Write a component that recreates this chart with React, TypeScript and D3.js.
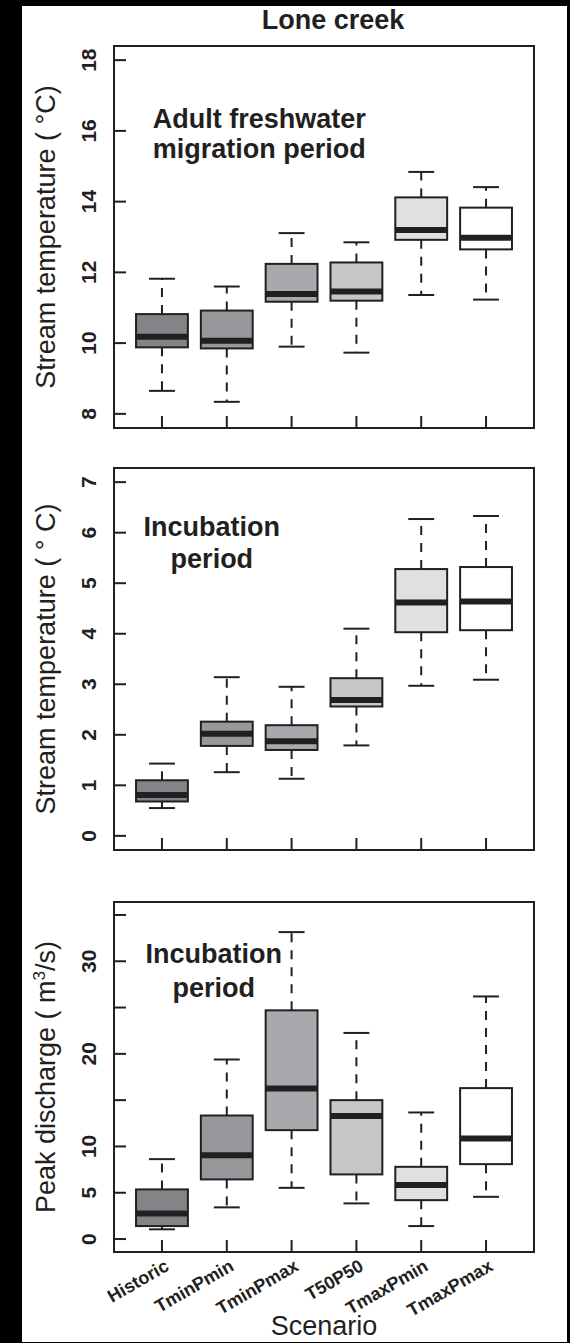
import React from "react";
import * as d3 from "d3";

const categories = ["Historic", "TminPmin", "TminPmax", "T50P50", "TmaxPmin", "TmaxPmax"];
const boxFills = ["#838487", "#97989b", "#a8a9ac", "#c6c7c9", "#dfe0e2", "#ffffff"];

// Panel 1: adult freshwater migration period, stream temperature
const p1Low = [8.65, 8.34, 9.9, 9.73, 11.36, 11.23];
const p1Q1 = [9.88, 9.85, 11.17, 11.2, 12.92, 12.65];
const p1Med = [10.18, 10.07, 11.39, 11.46, 13.2, 12.98];
const p1Q3 = [10.82, 10.92, 12.24, 12.28, 14.12, 13.83];
const p1High = [11.82, 11.6, 13.11, 12.85, 14.84, 14.41];
const p1Ticks = [8, 10, 12, 14, 16, 18];
const p1TickLabels = [8, 10, 12, 14, 16, 18];

// Panel 2: incubation period, stream temperature
const p2Low = [0.55, 1.26, 1.13, 1.79, 2.97, 3.09];
const p2Q1 = [0.68, 1.78, 1.7, 2.56, 4.03, 4.07];
const p2Med = [0.81, 2.02, 1.87, 2.69, 4.62, 4.64];
const p2Q3 = [1.1, 2.26, 2.19, 3.12, 5.28, 5.32];
const p2High = [1.43, 3.14, 2.95, 4.1, 6.27, 6.33];
const p2Ticks = [0, 1, 2, 3, 4, 5, 6, 7];
const p2TickLabels = [0, 1, 2, 3, 4, 5, 6, 7];

// Panel 3: incubation period, peak discharge
const p3Low = [1.05, 3.42, 5.53, 3.85, 1.4, 4.56];
const p3Q1 = [1.4, 6.44, 11.76, 6.98, 4.2, 8.09];
const p3Med = [2.77, 9.06, 16.26, 13.3, 5.83, 10.86];
const p3Q3 = [5.36, 13.34, 24.7, 15.0, 7.8, 16.3];
const p3High = [8.63, 19.39, 33.15, 22.26, 13.67, 26.2];
const p3Ticks = [0, 5, 10, 15, 20, 25, 30, 35];
const p3TickLabels = [0, 5, 10, 20, 30];

const INK = "#231f20";
const FONT = "'Liberation Sans', Arial, Helvetica, sans-serif";

const W = 570;
const H = 1343;
const plotLeft = 114;
const plotRight = 534;

const x = d3.scaleLinear().domain([0.26, 6.74]).range([plotLeft, plotRight]);
const bandW = x(1) - x(0);
const boxW = 0.8 * bandW;
const capW = boxW / 2;
const tickLen = 12;

type PanelProps = {
  top: number;
  bottom: number;
  domain: [number, number];
  low: number[];
  q1: number[];
  med: number[];
  q3: number[];
  high: number[];
  ticks: number[];
  tickLabels: number[];
  yTitle: React.ReactNode;
  note: string[];
  noteX: number;
  noteY: number[];
  showXLabels: boolean;
};

function Panel(p: PanelProps) {
  const y = d3.scaleLinear().domain(p.domain).range([p.bottom, p.top]);
  const mid = (p.top + p.bottom) / 2;
  return (
    <g>
      {categories.map((c, i) => {
        const cx = x(i + 1);
        return (
          <g key={c}>
            <line x1={cx} x2={cx} y1={y(p.q3[i])} y2={y(p.high[i])} stroke={INK} strokeWidth={2} strokeDasharray="9,8" />
            <line x1={cx} x2={cx} y1={y(p.q1[i])} y2={y(p.low[i])} stroke={INK} strokeWidth={2} strokeDasharray="9,8" />
            <line x1={cx - capW / 2} x2={cx + capW / 2} y1={y(p.high[i])} y2={y(p.high[i])} stroke={INK} strokeWidth={2} />
            <line x1={cx - capW / 2} x2={cx + capW / 2} y1={y(p.low[i])} y2={y(p.low[i])} stroke={INK} strokeWidth={2} />
            <rect
              x={cx - boxW / 2}
              y={y(p.q3[i])}
              width={boxW}
              height={y(p.q1[i]) - y(p.q3[i])}
              fill={boxFills[i]}
              stroke={INK}
              strokeWidth={2}
            />
            <line x1={cx - boxW / 2} x2={cx + boxW / 2} y1={y(p.med[i])} y2={y(p.med[i])} stroke={INK} strokeWidth={6} />
          </g>
        );
      })}
      <rect x={plotLeft} y={p.top} width={plotRight - plotLeft} height={p.bottom - p.top} fill="none" stroke={INK} strokeWidth={2} />
      {p.ticks.map((t) => (
        <line key={"yt" + t} x1={plotLeft} x2={plotLeft + tickLen} y1={y(t)} y2={y(t)} stroke={INK} strokeWidth={2} />
      ))}
      {p.tickLabels.map((t) => (
        <text
          key={"yl" + t}
          transform={`translate(96,${y(t)}) rotate(-90)`}
          textAnchor="middle"
          fontFamily={FONT}
          fontWeight="bold"
          fontSize={21}
          fill={INK}
        >
          {t}
        </text>
      ))}
      {categories.map((c, i) => (
        <line key={"xt" + c} x1={x(i + 1)} x2={x(i + 1)} y1={p.bottom} y2={p.bottom - tickLen} stroke={INK} strokeWidth={2} />
      ))}
      {p.showXLabels &&
        categories.map((c, i) => (
          <text
            key={"xl" + c}
            transform={`translate(${x(i + 1) + 5},${p.bottom + 12}) rotate(-30)`}
            textAnchor="end"
            dy="0.35em"
            fontFamily={FONT}
            fontWeight="bold"
            fontSize={18}
            fill={INK}
          >
            {c}
          </text>
        ))}
      <text transform={`translate(55,${mid}) rotate(-90)`} textAnchor="middle" fontFamily={FONT} fontSize={27} fill={INK}>
        {p.yTitle}
      </text>
      {p.note.map((line, k) => (
        <text
          key={"n" + k}
          x={x(p.noteX)}
          y={y(p.noteY[k])}
          textAnchor="middle"
          fontFamily={FONT}
          fontWeight="bold"
          fontSize={27}
          fill={INK}
        >
          {line}
        </text>
      ))}
    </g>
  );
}

export default function App() {
  return (
    <svg width={W} height={H} style={{ position: "absolute", left: 0, top: 0, display: "block" }}>
      <rect x={0} y={0} width={W} height={H} fill="#000" />
      <rect x={22} y={6} width={545} height={1336} fill="#fff" />
      <text x={333} y={29} textAnchor="middle" fontFamily={FONT} fontWeight="bold" fontSize={27} fill={INK}>
        Lone creek
      </text>
      <Panel
        top={46}
        bottom={428}
        domain={[7.6, 18.4]}
        low={p1Low}
        q1={p1Q1}
        med={p1Med}
        q3={p1Q3}
        high={p1High}
        ticks={p1Ticks}
        tickLabels={p1TickLabels}
        yTitle={"Stream temperature ( °C)"}
        note={["Adult freshwater", "migration period"]}
        noteX={2.5}
        noteY={[16.07, 15.22]}
        showXLabels={false}
      />
      <Panel
        top={468}
        bottom={850}
        domain={[-0.28, 7.28]}
        low={p2Low}
        q1={p2Q1}
        med={p2Med}
        q3={p2Q3}
        high={p2High}
        ticks={p2Ticks}
        tickLabels={p2TickLabels}
        yTitle={"Stream temperature ( ° C)"}
        note={["Incubation", "period"]}
        noteX={1.77}
        noteY={[5.93, 5.31]}
        showXLabels={false}
      />
      <Panel
        top={902}
        bottom={1252}
        domain={[-1.4, 36.4]}
        low={p3Low}
        q1={p3Q1}
        med={p3Med}
        q3={p3Q3}
        high={p3High}
        ticks={p3Ticks}
        tickLabels={p3TickLabels}
        yTitle={
          <>
            {"Peak discharge ( m"}
            <tspan fontSize={17} dy={-10}>3</tspan>
            <tspan dy={10}>{"/s)"}</tspan>
          </>
        }
        note={["Incubation", "period"]}
        noteX={1.8}
        noteY={[29.8, 26.1]}
        showXLabels={true}
      />
      <text x={(plotLeft + plotRight) / 2} y={1335} textAnchor="middle" fontFamily={FONT} fontSize={27} fill={INK}>
        Scenario
      </text>
    </svg>
  );
}
